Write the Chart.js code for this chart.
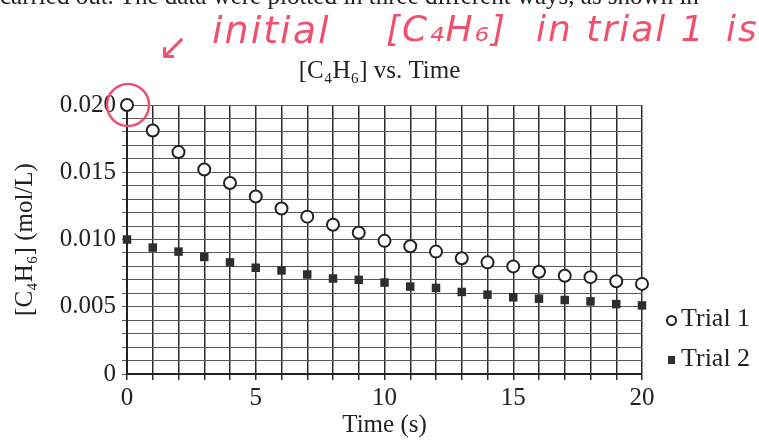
<!DOCTYPE html>
<html>
<head>
<meta charset="utf-8">
<script src="https://cdn.jsdelivr.net/npm/chart.js@4"></script>
<style>
  body { margin: 0; background: #fff; }
  #wrap { position: relative; width: 759px; height: 440px; overflow: hidden; font-family: "Liberation Serif", "Times New Roman", serif; color: #222; }
  #topline { position: absolute; left: 0; top: -18px; font-size: 25px; white-space: nowrap; }
  .pen { position: absolute; color: #f0506e; font-family: "DejaVu Sans", sans-serif; font-style: italic; font-size: 36px; white-space: nowrap; letter-spacing: 2px; }
  #legend { position: absolute; left: 666px; top: 298px; font-size: 26px; line-height: 40px; }
  .mark { display: inline-block; vertical-align: middle; margin-right: 4px; }
</style>
</head>
<body>
<div id="wrap">
  <canvas id="kinChart" width="759" height="440"></canvas>
  <div id="topline">carried out. The data were plotted in three different ways, as shown in</div>
  <div class="pen" style="left:158px; top:26px;">↙</div>
  <div class="pen" style="left:212px; top:8px; font-size:38px;">initial</div>
  <div class="pen" style="left:386px; top:8px;">[C₄H₆]</div>
  <div class="pen" style="left:536px; top:8px;">in trial 1</div>
  <div class="pen" style="left:726px; top:8px;">is</div>
  <div id="legend"></div>
</div>
<script>
// data
const times = [0, 1, 2, 3, 4, 5, 6, 7, 8, 9, 10, 11, 12, 13, 14, 15, 16, 17, 18, 19, 20];
const trial1 = [0.0200, 0.0181, 0.0165, 0.0152, 0.0142, 0.0132, 0.0123, 0.0117, 0.0111, 0.0105, 0.0099,
                0.0095, 0.0091, 0.0086, 0.0083, 0.0080, 0.0076, 0.0073, 0.0072, 0.0069, 0.0067];
const trial2 = [0.0100, 0.0094, 0.0091, 0.0087, 0.0083, 0.0079, 0.0077, 0.0074, 0.0071, 0.0070, 0.0068,
                0.0065, 0.0064, 0.0061, 0.0059, 0.0057, 0.0056, 0.0055, 0.0054, 0.0052, 0.0051];
const seriesNames = ["Trial 1", "Trial 2"];
const chartTitle = "[C₄H₆] vs. Time";
const xTitle = "Time (s)";
const yTitle = "[C₄H₆] (mol/L)";

const serif = "'Liberation Serif', 'Times New Roman', serif";
const ink = "#222";

function toPoints(vals) {
    return times.map((t, i) => ({ x: t, y: vals[i] }));
}

// pink hand-drawn circle around the first point of trial 1
const penCircle = {
    id: "penCircle",
    afterDatasetsDraw(chart) {
        const ctx = chart.ctx;
        const px = chart.scales.x.getPixelForValue(times[0]);
        const py = chart.scales.y.getPixelForValue(trial1[0]);
        ctx.save();
        ctx.strokeStyle = "#f0506e";
        ctx.lineWidth = 2.5;
        ctx.beginPath();
        ctx.arc(px + 1, py, 21, 0, Math.PI * 2);
        ctx.stroke();
        ctx.restore();
    }
};

const ctx = document.getElementById("kinChart").getContext("2d");
new Chart(ctx, {
    type: "scatter",
    data: {
        datasets: [{
            label: seriesNames[0],
            data: toPoints(trial1),
            clip: false,
            pointStyle: "circle",
            pointRadius: 6,
            pointBorderWidth: 2,
            pointBackgroundColor: "#fff",
            pointBorderColor: ink
        }, {
            label: seriesNames[1],
            data: toPoints(trial2),
            clip: false,
            pointStyle: "rect",
            pointRadius: 6,
            pointBorderWidth: 0,
            pointBackgroundColor: "#2e2e2e",
            pointBorderColor: "#2e2e2e"
        }]
    },
    options: {
        responsive: false,
        animation: false,
        plugins: {
            legend: { display: false },
            tooltip: { enabled: false },
            title: {
                display: true,
                text: chartTitle,
                color: ink,
                font: { family: serif, size: 25, weight: "normal" },
                padding: { top: 56, bottom: 19 }
            }
        },
        scales: {
            x: {
                type: "linear",
                min: 0,
                max: 20,
                afterFit(scale) { scale.height = 66; },
                ticks: {
                    stepSize: 1,
                    autoSkip: false,
                    maxRotation: 0,
                    color: ink,
                    padding: 3,
                    font: { family: serif, size: 25 },
                    callback: v => (v % 5 === 0 ? String(v) : "")
                },
                grid: { color: "#2a2a2a", lineWidth: 1.5, tickLength: 6 },
                border: { color: ink, width: 2 },
                title: {
                    display: true,
                    text: xTitle,
                    color: ink,
                    font: { family: serif, size: 25 },
                    padding: { top: 0, bottom: 0 }
                }
            },
            y: {
                min: 0,
                max: 0.02,
                afterFit(scale) { scale.width = 127; },
                ticks: {
                    stepSize: 0.001,
                    autoSkip: false,
                    color: ink,
                    padding: 6,
                    font: { family: serif, size: 25 },
                    callback: function (v) {
                        const m = Math.round(v * 1000);
                        if (m % 5 !== 0) return "";
                        return m === 0 ? "0" : (m / 1000).toFixed(3);
                    }
                },
                grid: { color: "#5a5a5a", lineWidth: 1, tickLength: 5 },
                border: { color: ink, width: 2 },
                title: {
                    display: true,
                    text: yTitle,
                    color: ink,
                    font: { family: serif, size: 25 },
                    padding: { top: 10, bottom: 0 }
                }
            },
            // empty right-hand strip that leaves room for the legend
            yRight: {
                type: "linear",
                position: "right",
                min: 0,
                max: 0.02,
                afterFit(scale) { scale.width = 117; },
                ticks: { display: false },
                grid: { drawOnChartArea: false, drawTicks: false },
                border: { display: false }
            }
        }
    },
    plugins: [penCircle]
});

// legend outside the plot, lower right
const legendBox = document.getElementById("legend");
legendBox.innerHTML =
    '<div><span class="mark" style="width:7px;height:7px;border:2px solid #222;border-radius:50%;"></span>' + seriesNames[0] + '</div>' +
    '<div><span class="mark" style="width:7px;height:8px;background:#333;margin-left:2px;margin-right:6px;"></span>' + seriesNames[1] + '</div>';
</script>
</body>
</html>
